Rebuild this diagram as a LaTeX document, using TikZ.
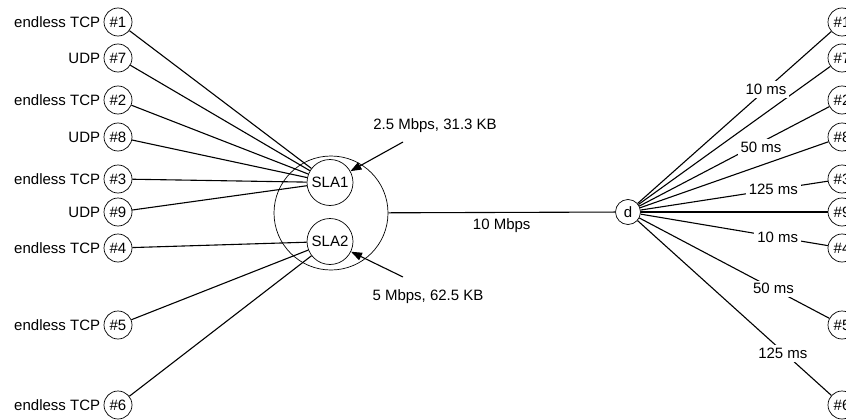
\documentclass[tikz,border=0pt]{standalone}
\usepackage{fontspec}
\setmainfont{Liberation Sans}
\usetikzlibrary{arrows.meta, positioning}

\tikzset{
  flow/.style={draw, circle, minimum size=28pt, inner sep=0pt, line width=0.7pt},
  slaq/.style={draw, circle, minimum size=46pt, inner sep=0pt, line width=0.7pt},
  link/.style={line width=1.1pt},
  delay/.style={fill=white, inner sep=3pt},
}

\begin{document}
\begin{tikzpicture}[x=1pt, y=-1pt, font=\fontsize{15}{18}\selectfont]
  \useasboundingbox (0,0) rectangle (846,420);
  \clip (0,0) rectangle (846,420);

  %% ─── Router with the two SLA queues ───────────────────────────────────────
  \node[draw, circle, minimum size=114pt, line width=0.7pt] (router) at (331,213) {};
  \node[slaq] (sla1) at (330,182.5) {SLA1};
  \node[slaq] (sla2) at (330,241.5) {SLA2};

  \node[flow, minimum size=25pt] (sink) at (628,212) {d};
  \draw[link] (router) -- (sink) node[midway, below=2pt] (bw) {10 Mbps};

  %% ─── Sources ──────────────────────────────────────────────────────────────
  \foreach \n/\yy/\kind/\q in {1/22/endless TCP/sla1, 7/58/UDP/sla1,
      2/100/endless TCP/sla1, 8/137/UDP/sla1, 3/179/endless TCP/sla1,
      9/212/UDP/sla1, 4/248/endless TCP/sla2, 5/325/endless TCP/sla2,
      6/405/endless TCP/sla2} {
    \node[flow] (src\n) at (118,\yy) {\#\n};
    \node[left=0pt of src\n] (srclab\n) {\kind};
    \draw[link] (src\n) -- (\q);
  }

  %% ─── Receivers ────────────────────────────────────────────────────────────
  \foreach \n/\yy in {1/22, 7/58, 2/100, 8/137, 3/179, 9/212, 4/248, 5/325, 6/405}
    \node[flow] (rcv\n) at (842,\yy) {\#\n};

  \foreach \n in {7,8,9} \draw[link] (sink) -- (rcv\n);
  \foreach \n/\dl/\p/\dy in {1/10 ms/0.663/0, 2/50 ms/0.640/-5, 3/125 ms/0.709/0,
      4/10 ms/0.732/0, 5/50 ms/0.706/0, 6/125 ms/0.750/-2}
    \draw[link] (sink) -- (rcv\n) node[delay, pos=\p, yshift=\dy pt] {\dl};

  %% ─── SLA rates and buffers ────────────────────────────────────────────────
  \coordinate (q1in) at (403,142);
  \coordinate (q2in) at (403,277);
  \node (q1lab) at (435,126) {2.5 Mbps, 31.3 KB};
  \node (q2lab) at (428,297) {5 Mbps, 62.5 KB};
  \draw[link, -{Triangle[length=11pt, width=8pt]}] (q1in) -- (sla1);
  \draw[link, -{Triangle[length=11pt, width=8pt]}] (q2in) -- (sla2);
\end{tikzpicture}
\end{document}
